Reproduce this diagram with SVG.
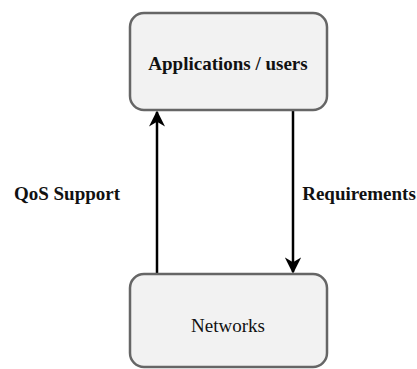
<svg xmlns="http://www.w3.org/2000/svg" width="417" height="369" viewBox="0 0 417 369">
<style>
.box{fill:#f2f2f2;stroke:#666;stroke-width:2.5}
.t{font-family:"Liberation Serif","Times New Roman",serif;font-size:19px;fill:#111;text-anchor:middle}
.b{font-weight:bold}
.c{stroke:#000;stroke-width:2.5;fill:none}
</style>
<defs>
<marker id="ah" viewBox="0 0 10 10" refX="9" refY="5" markerWidth="6.5" markerHeight="6.5" markerUnits="strokeWidth" orient="auto">
<path d="M0,0 L10,5 L0,10 L3,5 Z" fill="#000"/>
</marker>
</defs>
<g id="connectors">
<line class="c" x1="157" y1="273" x2="157" y2="112" marker-end="url(#ah)"/>
<line class="c" x1="293" y1="111" x2="293" y2="272" marker-end="url(#ah)"/>
<text class="t b" x="67" y="200">QoS Support</text>
<text class="t b" x="359" y="200">Requirements</text>
</g>
<g id="apps">
<rect class="box" x="130" y="13" width="197" height="97" rx="14"/>
<text class="t b" x="228" y="70">Applications / users</text>
</g>
<g id="networks">
<rect class="box" x="130" y="274" width="197" height="93" rx="14"/>
<text class="t" x="228" y="332">Networks</text>
</g>
</svg>
